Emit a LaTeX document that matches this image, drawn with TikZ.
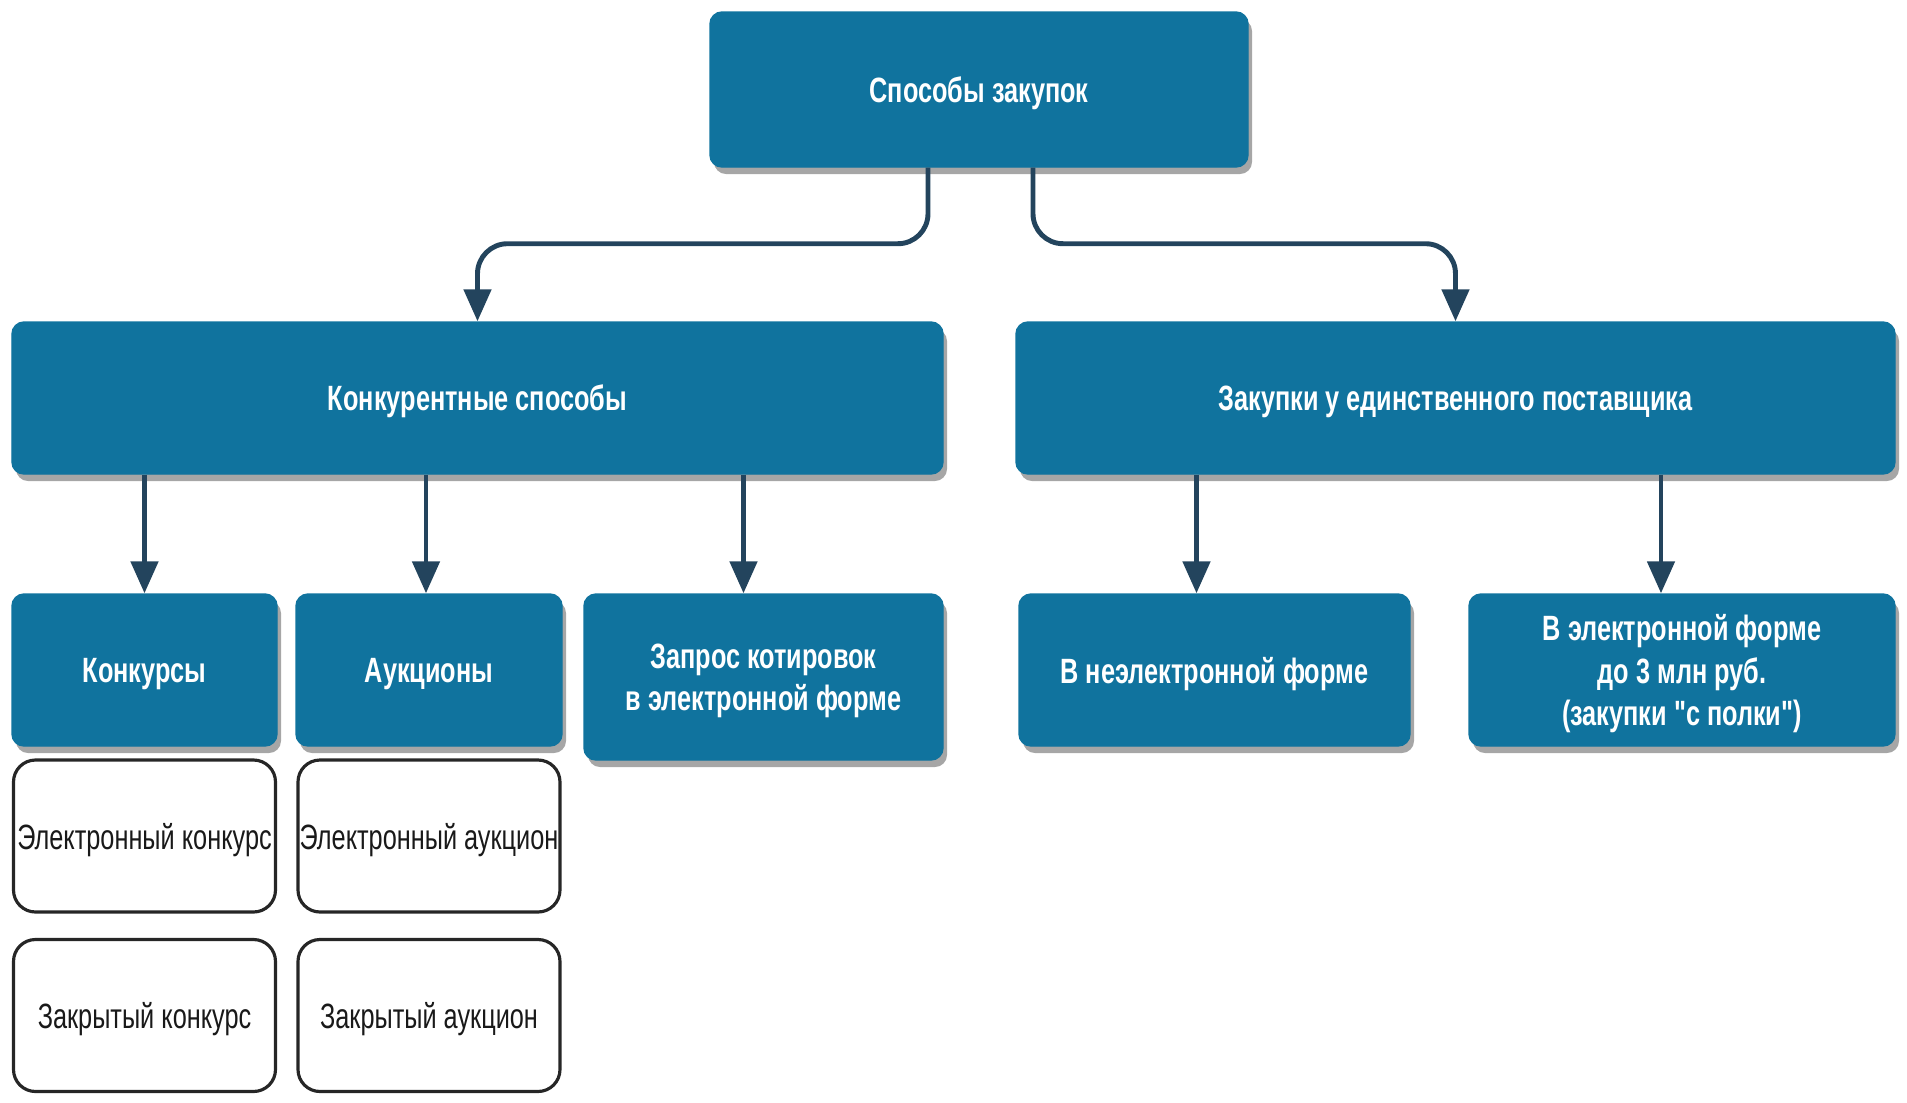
\documentclass[tikz,border=0pt]{standalone}
\usepackage{fontspec}
\setmainfont[FakeStretch=0.72, Ligatures=TeXOff]{Liberation Sans}
\usepackage{tikz}
\usetikzlibrary{arrows.meta, positioning, calc, shadows}
\usepackage{xcolor}
\definecolor{procblue}{HTML}{10739E}
\definecolor{procdark}{HTML}{23445D}

\begin{document}
\begin{tikzpicture}[
    bluebox/.style={fill=procblue, draw=procblue, rounded corners=1.2mm,
                    align=center, text=white, font=\fontsize{10}{12}\selectfont\bfseries,
                    inner sep=0pt, text depth=0pt,
                    drop shadow={shadow xshift=0.4mm, shadow yshift=-0.7mm,
                                 fill=black!35, opacity=1}},
    whitebox/.style={draw=black!85, line width=0.9pt, rounded corners=2.2mm,
                     minimum width=2.62cm, minimum height=1.52cm,
                     align=center, text=black!90, inner sep=0pt, text depth=0pt,
                     font=\fontsize{10}{12}\selectfont},
    arr/.style={-{Triangle[width=2.7mm, length=3.2mm]}, line width=1.4pt, procdark}
  ]
    \useasboundingbox (0,0) rectangle (19.07,-11.02);

    \node[bluebox, minimum width=5.38cm, minimum height=1.55cm] (root) at (9.79,-0.895)
      {Способы закупок};

    \node[bluebox, minimum width=9.31cm, minimum height=1.52cm] (comp) at (4.775,-3.98)
      {Конкурентные способы};
    \node[bluebox, minimum width=8.79cm, minimum height=1.52cm] (single) at (14.555,-3.98)
      {Закупки у единственного поставщика};

    \node[bluebox, minimum width=2.65cm, minimum height=1.52cm] (konkursy) at (1.445,-6.70)
      {Конкурсы};
    \node[bluebox, minimum width=2.66cm, minimum height=1.52cm] (auktsiony) at (4.29,-6.70)
      {Аукционы};
    \node[bluebox, minimum width=3.59cm, minimum height=1.66cm] (zapros) at (7.635,-6.77)
      {Запрос котировок\\в электронной форме};
    \node[bluebox, minimum width=3.91cm, minimum height=1.52cm] (neelektr) at (12.145,-6.70)
      {В неэлектронной форме};
    \node[bluebox, minimum width=4.26cm, minimum height=1.52cm] (polka) at (16.82,-6.70)
      {В электронной форме\\до 3 млн руб.\\ (закупки "с полки")};

    \node[whitebox] (ekonkurs) at (1.445,-8.36) {Электронный конкурс};
    \node[whitebox] (zkonkurs) at (1.445,-10.155) {Закрытый конкурс};
    \node[whitebox] (eauktsion) at (4.29,-8.36) {Электронный аукцион};
    \node[whitebox] (zauktsion) at (4.29,-10.155) {Закрытый аукцион};

    \draw[arr, rounded corners=3mm] ([xshift=-5.1mm]root.south) -- ++(0,-0.76) -| (comp.north);
    \draw[arr, rounded corners=3mm] ([xshift=5.4mm]root.south) -- ++(0,-0.76) -| (single.north);

    \draw[arr] (konkursy.north |- comp.south) -- (konkursy.north);
    \draw[arr] ([xshift=-0.3mm]auktsiony.north |- comp.south) -- ([xshift=-0.3mm]auktsiony.north);
    \draw[arr] ([xshift=-2mm]zapros.north |- comp.south) -- ([xshift=-2mm]zapros.north);
    \draw[arr] ([xshift=-1.8mm]neelektr.north |- single.south) -- ([xshift=-1.8mm]neelektr.north);
    \draw[arr] ([xshift=-2.1mm]polka.north |- single.south) -- ([xshift=-2.1mm]polka.north);
\end{tikzpicture}
\end{document}
